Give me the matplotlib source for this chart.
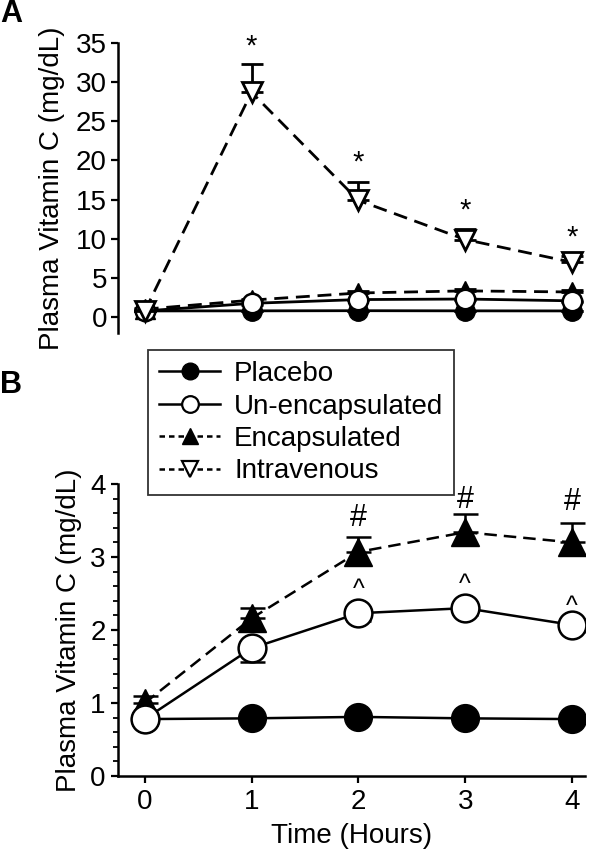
import matplotlib
matplotlib.use("Agg")
import matplotlib.pyplot as plt
from matplotlib.ticker import MultipleLocator
from matplotlib.lines import Line2D

plt.rcParams['font.family'] = ['Liberation Sans', 'DejaVu Sans']

hours = [0, 1, 2, 3, 4]
placebo = [0.78, 0.79, 0.81, 0.79, 0.78]
placebo_err = [0.03, 0.03, 0.03, 0.03, 0.03]
unencap = [0.78, 1.75, 2.23, 2.30, 2.07]
unencap_err = [0.05, 0.19, 0.10, 0.10, 0.10]
encap = [1.00, 2.16, 3.07, 3.34, 3.20]
encap_err = [0.10, 0.14, 0.20, 0.25, 0.26]
iv = [0.75, 28.7, 14.9, 9.9, 7.0]
iv_err = [0.10, 3.6, 2.4, 1.3, 0.8]

iv_marks = ['*', '*', '*', '*']
iv_mark_x = [1, 2, 3, 4]
iv_mark_y = [32.8, 17.9, 11.8, 8.4]
enc_marks = ['#', '#', '#']
enc_mark_x = [2, 3, 4]
enc_mark_y = [3.53, 3.78, 3.75]
un_marks = ['^', '^', '^']
un_mark_x = [2, 3, 4]
un_mark_y = [2.55, 2.62, 2.32]

labels = ['Placebo', 'Un-encapsulated', 'Encapsulated', 'Intravenous']

fig = plt.figure(figsize=(6.0, 8.57), dpi=100)
axA = fig.add_axes([0.1967, 0.6118, 0.778, 0.338])
axB = fig.add_axes([0.1967, 0.0945, 0.778, 0.3407])

dash = (0, (5, 2.8))
FS = 20

def series(ax, ms, cs, lw):
    ax.errorbar(hours, placebo, yerr=[placebo_err, [0]*5], color='black', lw=lw,
                marker='o', ms=ms, mfc='black', mec='black', capsize=cs, capthick=lw,
                elinewidth=lw, zorder=2)
    ax.errorbar(hours, encap, yerr=[[0]*5, encap_err], color='black', lw=lw, ls=dash,
                marker='^', ms=ms, mfc='black', mec='black', capsize=cs, capthick=lw,
                elinewidth=lw, zorder=3)
    ax.errorbar(hours, unencap, yerr=[unencap_err, [0]*5], color='black', lw=lw,
                marker='o', ms=ms, mfc='white', mec='black', mew=1.8, capsize=cs,
                capthick=lw, elinewidth=lw, zorder=4)

# Panel A
series(axA, 14, 8, 2.0)
axA.errorbar(hours, iv, yerr=[[0]*5, iv_err], color='black', lw=2.0, ls=dash,
             marker='v', ms=15, mfc='white', mec='black', mew=2.0, capsize=8,
             capthick=2.0, elinewidth=2.0, zorder=5)
for t, x, y in zip(iv_marks, iv_mark_x, iv_mark_y):
    axA.text(x, y, t, ha='center', va='bottom', fontsize=21)
axA.set_ylim(-2, 35)
axA.set_xlim(-0.25, 4.12)
axA.set_yticks([0, 5, 10, 15, 20, 25, 30, 35])
axA.spines['top'].set_visible(False)
axA.spines['right'].set_visible(False)
axA.spines['bottom'].set_visible(False)
axA.spines['left'].set_bounds(-2, 35)
axA.spines['left'].set_linewidth(1.8)
axA.set_xticks([])
axA.tick_params(axis='y', labelsize=FS, length=5, width=1.6, direction='out', pad=3)
axA.set_ylabel('Plasma Vitamin C (mg/dL)', fontsize=FS, labelpad=8)

# Panel B
series(axB, 20, 9, 1.8)
for t, x, y in zip(enc_marks, enc_mark_x, enc_mark_y):
    axB.text(x, y, t, ha='center', va='center', fontsize=22)
for t, x, y in zip(un_marks, un_mark_x, un_mark_y):
    axB.text(x, y, t, ha='center', va='center', fontsize=18)
axB.set_ylim(0, 4)
axB.set_xlim(-0.25, 4.12)
axB.set_xticks(hours)
axB.set_yticks([0, 1, 2, 3, 4])
axB.yaxis.set_minor_locator(MultipleLocator(0.2))
axB.spines['top'].set_visible(False)
axB.spines['right'].set_visible(False)
axB.spines['left'].set_linewidth(1.8)
axB.spines['bottom'].set_linewidth(1.8)
axB.tick_params(axis='both', labelsize=FS, length=5, width=1.6, direction='out', pad=4)
axB.tick_params(axis='y', which='minor', length=3.5, width=1.3)
axB.set_xlabel('Time (Hours)', fontsize=FS, labelpad=6)
axB.set_ylabel('Plasma Vitamin C (mg/dL)', fontsize=FS, labelpad=6)

lw = 1.8
dl = (0, (2.2, 1.6))
handles = [
    Line2D([], [], color='black', lw=lw, marker='o', ms=12, mfc='black', mec='black'),
    Line2D([], [], color='black', lw=lw, marker='o', ms=12, mfc='white', mec='black', mew=1.6),
    Line2D([], [], color='black', lw=lw, ls=dl, marker='^', ms=12, mfc='black', mec='black'),
    Line2D([], [], color='black', lw=lw, ls=dl, marker='v', ms=12, mfc='white', mec='black', mew=1.6),
]
leg = fig.legend(handles, labels, loc='upper left', bbox_to_anchor=(148/600, 1 - 350/857),
                 fontsize=FS, frameon=True, fancybox=False, edgecolor='black',
                 handlelength=2.2, handletextpad=0.5, labelspacing=0.23,
                 borderpad=0.4, borderaxespad=0)
leg.get_frame().set_linewidth(1.3)

fig.text(0.0, 1 - 14/857, 'A', fontsize=22, fontweight='bold', va='center', ha='left')
fig.text(0.0, 1 - 385/857, 'B', fontsize=22, fontweight='bold', va='center', ha='left')

fig.savefig('out.png', dpi=100)
